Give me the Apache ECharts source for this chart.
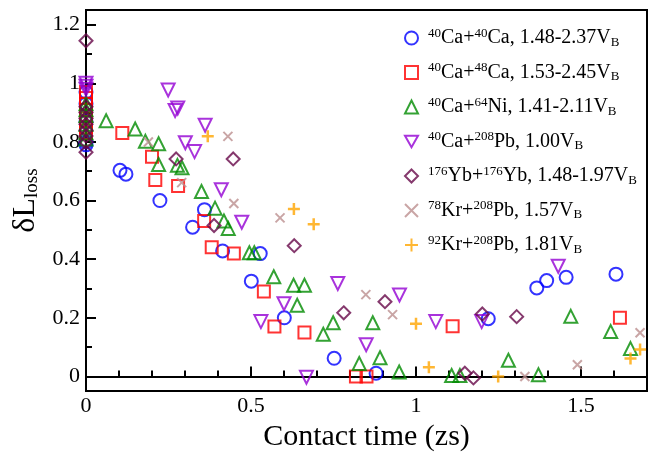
<!DOCTYPE html>
<html>
<head>
<meta charset="utf-8">
<script src="https://cdn.jsdelivr.net/npm/echarts@6/dist/echarts.min.js"></script>
<style>
  html, body { margin: 0; padding: 0; background: #fff; }
  #main { width: 652px; height: 457px; }
</style>
</head>
<body>
<div id="main"></div>
<script>
// data: [contact time (zs), dL_loss]
var caCa = [[0,0.97],[0,0.93],[0,0.87],[0,0.80],[0,0.79],[0.103,0.703],[0.121,0.69],[0.224,0.60],[0.359,0.569],[0.323,0.509],[0.414,0.428],[0.528,0.419],[0.501,0.325],[0.601,0.20],[0.752,0.062],[0.879,0.011],[1.219,0.197],[1.366,0.302],[1.396,0.327],[1.455,0.338],[1.606,0.349]];
var caCa48 = [[0,0.97],[0,0.95],[0,0.93],[0,0.91],[0,0.88],[0,0.85],[0,0.83],[0.11,0.83],[0.2,0.749],[0.21,0.67],[0.279,0.65],[0.358,0.53],[0.381,0.441],[0.448,0.419],[0.539,0.29],[0.571,0.17],[0.662,0.15],[0.818,0.0],[0.85,0.0],[1.111,0.171],[1.618,0.20]];
var caNi = [[0,0.93],[0,0.91],[0,0.89],[0,0.86],[0,0.83],[0,0.81],[0.061,0.872],[0.149,0.844],[0.18,0.802],[0.22,0.794],[0.22,0.723],[0.277,0.72],[0.291,0.712],[0.35,0.631],[0.391,0.574],[0.418,0.53],[0.431,0.505],[0.495,0.422],[0.51,0.422],[0.569,0.34],[0.629,0.311],[0.662,0.311],[0.64,0.243],[0.749,0.183],[0.719,0.144],[0.828,0.044],[0.869,0.183],[0.891,0.064],[0.949,0.015],[1.108,0.003],[1.133,0.003],[1.28,0.055],[1.371,0.006],[1.469,0.205],[1.59,0.153],[1.65,0.095]];
var caPb = [[0,1.0],[0,0.99],[0,0.98],[0.249,0.977],[0.278,0.916],[0.27,0.907],[0.361,0.857],[0.301,0.797],[0.329,0.767],[0.41,0.637],[0.472,0.526],[0.53,0.187],[0.6,0.248],[0.668,-0.003],[0.763,0.317],[0.849,0.108],[0.95,0.278],[1.06,0.187],[1.199,0.187],[1.431,0.376]];
var ybYb = [[0,1.145],[0,0.92],[0,0.90],[0,0.88],[0,0.86],[0,0.84],[0,0.82],[0,0.80],[0,0.765],[0.273,0.742],[0.446,0.742],[0.388,0.515],[0.631,0.446],[0.781,0.217],[0.906,0.255],[1.201,0.213],[1.305,0.204],[1.148,0.011],[1.174,-0.005]];
var kr78Pb = [[0.189,0.80],[0.43,0.819],[0.29,0.661],[0.448,0.59],[0.588,0.541],[0.848,0.279],[0.929,0.211],[1.33,0.0],[1.489,0.04],[1.679,0.149]];
var kr92Pb = [[0.369,0.819],[0.63,0.571],[0.69,0.519],[1.0,0.18],[1.039,0.031],[1.249,0.0],[1.65,0.061],[1.679,0.092]];

var seriesNames = ['40Ca+40Ca', '40Ca+48Ca', '40Ca+64Ni', '40Ca+208Pb', '176Yb+176Yb', '78Kr+208Pb', '92Kr+208Pb'];
var legendLabels = [
  '{sup|40}{t|Ca+}{sup|40}{t|Ca, 1.48-2.37V}{sub|B}',
  '{sup|40}{t|Ca+}{sup|48}{t|Ca, 1.53-2.45V}{sub|B}',
  '{sup|40}{t|Ca+}{sup|64}{t|Ni, 1.41-2.11V}{sub|B}',
  '{sup|40}{t|Ca+}{sup|208}{t|Pb, 1.00V}{sub|B}',
  '{sup|176}{t|Yb+}{sup|176}{t|Yb, 1.48-1.97V}{sub|B}',
  '{sup|78}{t|Kr+}{sup|208}{t|Pb, 1.57V}{sub|B}',
  '{sup|92}{t|Kr+}{sup|208}{t|Pb, 1.81V}{sub|B}'
];

var xMajor = [0, 0.5, 1, 1.5];
var xMinor = [0.1, 0.2, 0.3, 0.4, 0.6, 0.7, 0.8, 0.9, 1.1, 1.2, 1.3, 1.4, 1.6];
var yMajor = [0, 0.2, 0.4, 0.6, 0.8, 1, 1.2];
var yMinor = [0.1, 0.3, 0.5, 0.7, 0.9, 1.1];

var serif = 'Liberation Serif';
var crossPath = 'path://M0,0L10,10M0,10L10,0';
var plusPath = 'path://M5,0L5,10M0,5L10,5';
var downTriPath = 'path://M0,0L10,0L5,8.66Z';

function mk(i, data, color, symbol, size, bw) {
  return {
    name: seriesNames[i],
    type: 'scatter',
    data: data,
    symbol: symbol,
    symbolSize: size,
    itemStyle: { color: 'transparent', borderColor: color, borderWidth: bw || 2 },
    emphasis: { disabled: true }
  };
}

var myChart = echarts.init(document.getElementById('main'));
var option = {
  animation: false,
  textStyle: { fontFamily: serif },
  grid: { left: 86, right: 5, top: 10, bottom: 55, show: true, borderColor: '#000', borderWidth: 2 },
  legend: {
    orient: 'vertical',
    left: 399,
    top: 22,
    itemWidth: 13,
    itemHeight: 13,
    itemGap: 12.5,
    data: seriesNames,
    formatter: function (name) { return legendLabels[seriesNames.indexOf(name)]; },
    textStyle: {
      fontFamily: serif,
      padding: [0, 0, 0, 5],
      rich: {
        t: { fontFamily: serif, fontSize: 20, lineHeight: 22, color: '#000' },
        sup: { fontFamily: serif, fontSize: 13, lineHeight: 13, verticalAlign: 'top', color: '#000' },
        sub: { fontFamily: serif, fontSize: 13, lineHeight: 13, verticalAlign: 'bottom', color: '#000' }
      }
    }
  },
  xAxis: [{
    type: 'value', min: 0, max: 1.7,
    name: 'Contact time (zs)', nameLocation: 'middle', nameGap: 24,
    nameTextStyle: { fontFamily: serif, fontSize: 30, color: '#000' },
    axisLine: { lineStyle: { color: '#000', width: 2 } },
    axisTick: { inside: true, length: 10, lineStyle: { color: '#000', width: 2 }, customValues: xMajor },
    axisLabel: { fontFamily: serif, fontSize: 22, color: '#000', margin: 4, customValues: xMajor },
    splitLine: { show: false }
  }, {
    type: 'value', min: 0, max: 1.7, position: 'bottom',
    axisLine: { show: false },
    axisTick: { inside: true, length: 6, lineStyle: { color: '#000', width: 2 }, customValues: xMinor },
    axisLabel: { show: false, customValues: xMinor },
    splitLine: { show: false }
  }],
  yAxis: [{
    type: 'value', min: -0.05, max: 1.25,
    name: '{d|δL}{s|loss}', nameLocation: 'middle', nameGap: 36, nameRotate: 90,
    nameTextStyle: {
      rich: {
        d: { fontFamily: serif, fontSize: 32, lineHeight: 32, color: '#000' },
        s: { fontFamily: serif, fontSize: 19, lineHeight: 19, verticalAlign: 'bottom', color: '#000' }
      }
    },
    axisLine: { lineStyle: { color: '#000', width: 2 } },
    axisTick: { inside: true, length: 10, lineStyle: { color: '#000', width: 2 }, customValues: yMajor },
    axisLabel: { fontFamily: serif, fontSize: 22, color: '#000', margin: 6, customValues: yMajor },
    splitLine: { show: false }
  }, {
    type: 'value', min: -0.05, max: 1.25, position: 'left',
    axisLine: { show: false },
    axisTick: { inside: true, length: 6, lineStyle: { color: '#000', width: 2 }, customValues: yMinor },
    axisLabel: { show: false, customValues: yMinor },
    splitLine: { show: false }
  }],
  series: [
    mk(0, caCa, '#0000ff', 'circle', 13),
    mk(1, caCa48, '#ff0000', 'rect', 12),
    mk(2, caNi, '#008b00', 'triangle', 13),
    mk(3, caPb, '#9400d3', downTriPath, 13),
    mk(4, ybYb, '#670748', 'diamond', 13),
    mk(5, kr78Pb, '#bc8f8f', crossPath, 9, 2),
    mk(6, kr92Pb, '#ffa500', plusPath, 12, 2.5)
  ]
};
myChart.setOption(option);
</script>
</body>
</html>
